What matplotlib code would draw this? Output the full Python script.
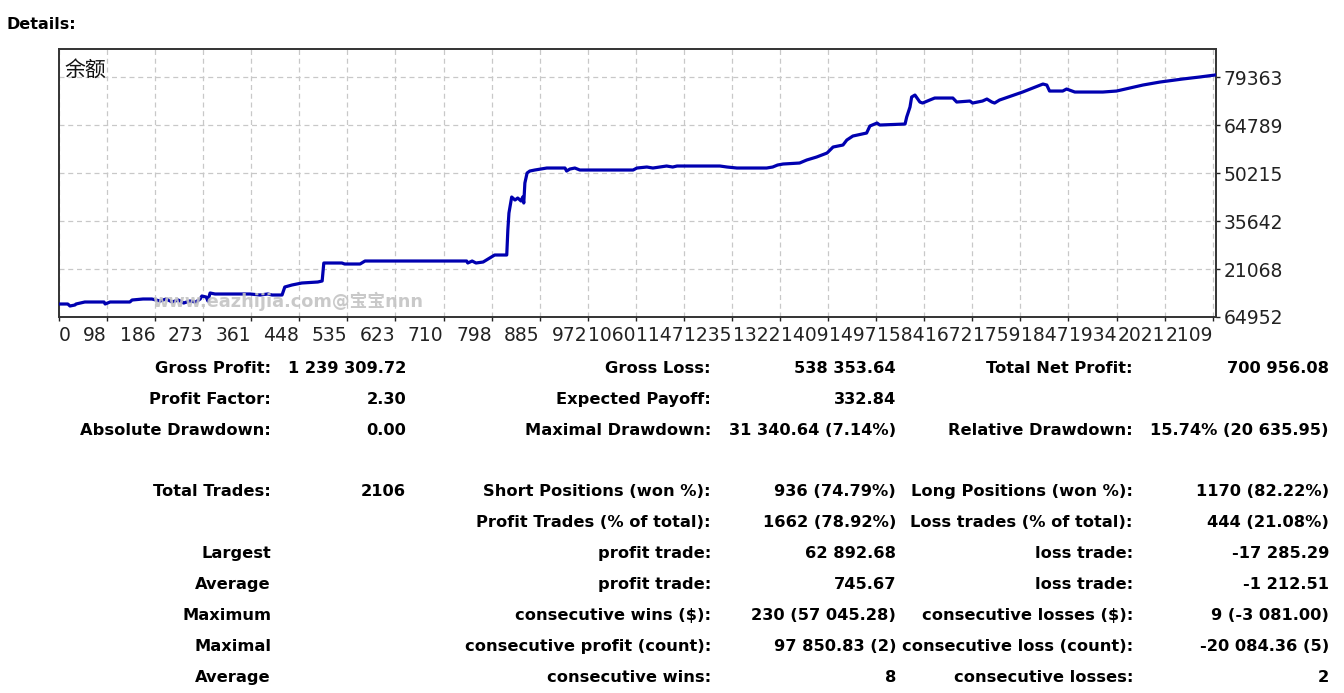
import numpy as np
import matplotlib.pyplot as plt

# figure size in pixels (saved at dpi 100)
W, H = 1344, 693

# balance curve (trade number, balance)
trade_no = [0, 16, 20, 29, 31, 47, 82, 84, 93, 129, 133, 153, 169, 184, 195, 206, 217, 227,
            238, 249, 257, 260, 268, 271, 275, 284, 308, 348, 366, 380, 388, 406, 411, 424,
            442, 471, 479, 482, 515, 520, 548, 557, 581, 742, 744, 752, 759, 772, 781, 793,
            815, 817, 819, 824, 830, 835, 841, 844, 846, 848, 852, 857, 866, 888, 921, 924,
            930, 939, 948, 1045, 1052, 1070, 1081, 1106, 1117, 1125, 1203, 1216, 1234, 1288,
            1299, 1308, 1318, 1348, 1361, 1379, 1398, 1409, 1427, 1434, 1445, 1470, 1476,
            1489, 1494, 1540, 1543, 1549, 1552, 1558, 1567, 1572, 1585, 1594, 1627, 1634,
            1658, 1663, 1681, 1689, 1698, 1703, 1712, 1754, 1791, 1798, 1803, 1827, 1834,
            1849, 1900, 1925, 1973, 2004, 2045, 2076, 2104]
balance = [10440, 10440, 9834, 10137, 10440, 11048, 11048, 10440, 11048, 11048, 11655, 11959,
           11959, 11351, 11959, 11048, 11655, 10744, 11351, 11048, 11959, 12870, 12566, 11351,
           13780, 13477, 13477, 13477, 13173, 13477, 13173, 13173, 15602, 16209, 16816, 17120,
           17424, 22888, 22888, 22585, 22585, 23496, 23496, 23496, 22888, 23496, 22888, 23192,
           24103, 25317, 25317, 32907, 38068, 42926, 42015, 42622, 41712, 42926, 41105, 47176,
           50212, 50819, 51123, 51730, 51730, 50819, 51426, 51730, 51123, 51123, 51730, 52034,
           51730, 52338, 52034, 52338, 52338, 52034, 51730, 51730, 52034, 52641, 52945, 53248,
           54160, 55070, 56284, 58106, 58713, 60231, 61446, 62356, 64482, 65392, 64785, 65090,
           67214, 70250, 73286, 73893, 71768, 71464, 72375, 72982, 72982, 71768, 72072, 71464,
           72072, 72679, 71768, 71464, 72375, 74804, 77233, 76930, 75108, 75108, 75715, 74804,
           74804, 75108, 76930, 77838, 78751, 79358, 79966]

x_labels = ['0', '98', '186', '273', '361', '448', '535', '623', '710', '798', '885', '972',
            '1060', '1147', '1235', '1322', '1409', '1497', '1584', '1672', '1759', '1847',
            '1934', '2021', '2109']
y_values = [6494, 21068, 35642, 50215, 64789, 79363]
y_labels = ['64952', '21068', '35642', '50215', '64789', '79363']

# report table
left_labels = ['Gross Profit:', 'Profit Factor:', 'Absolute Drawdown:', '', 'Total Trades:', '',
               'Largest', 'Average', 'Maximum', 'Maximal', 'Average']
left_values = ['1 239 309.72', '2.30', '0.00', '', '2106', '', '', '', '', '', '']
mid_labels = ['Gross Loss:', 'Expected Payoff:', 'Maximal Drawdown:', '',
              'Short Positions (won %):', 'Profit Trades (% of total):', 'profit trade:',
              'profit trade:', 'consecutive wins ($):', 'consecutive profit (count):',
              'consecutive wins:']
mid_values = ['538 353.64', '332.84', '31 340.64 (7.14%)', '', '936 (74.79%)',
              '1662 (78.92%)', '62 892.68', '745.67', '230 (57 045.28)', '97 850.83 (2)', '8']
right_labels = ['Total Net Profit:', '', 'Relative Drawdown:', '', 'Long Positions (won %):',
                'Loss trades (% of total):', 'loss trade:', 'loss trade:',
                'consecutive losses ($):', 'consecutive loss (count):', 'consecutive losses:']
right_values = ['700 956.08', '', '15.74% (20 635.95)', '', '1170 (82.22%)', '444 (21.08%)',
                '-17 285.29', '-1 212.51', '9 (-3 081.00)', '-20 084.36 (5)', '2']

plt.rcParams['font.family'] = ['DejaVu Sans', 'Noto Sans CJK SC']

fig = plt.figure(figsize=(W / 100, H / 100), dpi=100)

# chart box: x 59..1216 px, y 49..317 px
ax = fig.add_axes([59 / W, 1 - 317 / H, (1216 - 59) / W, (317 - 49) / H])
ax.plot(trade_no, balance, color='#0000b0', lw=2.3, zorder=3)

ax.set_xlim(0, 2106)
ax.set_ylim(6494, 87870)
ax.set_xticks(np.arange(len(x_labels)) * 87.5)
ax.set_xticklabels(x_labels)
for i, lab in enumerate(ax.get_xticklabels()):
    lab.set_ha('left' if i == 0 else 'right')
ax.set_yticks(y_values)
ax.set_yticklabels(y_labels)
ax.yaxis.tick_right()
ax.tick_params(axis='both', labelsize=13.5, colors='#222222', length=3, width=1)
ax.tick_params(axis='x', pad=3.5)
ax.tick_params(axis='y', pad=2.5)
ax.grid(True, color='#c8c8c8', lw=0.9, ls=(0, (4, 3)))
for s in ax.spines.values():
    s.set_color('#333333')
    s.set_linewidth(1.4)

ax.text(0.005, 0.965, '余额', transform=ax.transAxes, fontsize=15, va='top', ha='left',
        family=['Noto Sans CJK SC', 'DejaVu Sans'], color='#111111')
ax.text(0.081, 0.06, 'www.eazhijia.com@宝宝nnn', transform=ax.transAxes, fontsize=12.8,
        fontweight='bold', color='#c4c4c4', alpha=0.9, va='center', ha='left', zorder=5,
        family=['DejaVu Sans', 'Noto Sans CJK SC'])

# "Details:" header
fig.text(7 / W, 1 - 29 / H, 'Details:', fontsize=11.5, fontweight='bold', va='baseline', ha='left')

# table of results (baseline about 6 px under the row centre)
row_y = [367, 398, 429, 460, 490, 521, 552, 583, 614, 645, 676]
cols = [(left_labels, 271), (left_values, 406), (mid_labels, 711), (mid_values, 896),
        (right_labels, 1133), (right_values, 1329)]
for texts, xr in cols:
    for t, yy in zip(texts, row_y):
        if t:
            fig.text(xr / W, 1 - (yy + 6) / H, t, fontsize=11.7, fontweight='bold',
                     va='baseline', ha='right', color='black')

fig.savefig('out.png', dpi=100, facecolor='white')
